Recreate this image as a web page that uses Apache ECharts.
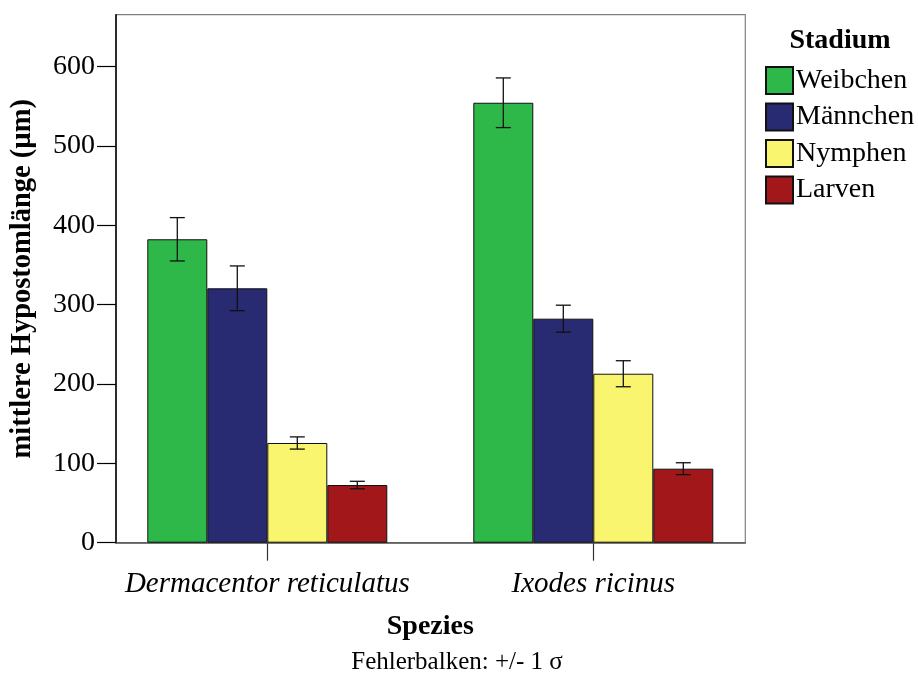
<!DOCTYPE html>
<html><head><meta charset="utf-8">
<script src="https://cdn.jsdelivr.net/npm/echarts@6/dist/echarts.min.js"></script>
<style>html,body{margin:0;padding:0;background:#fff}#c{width:918px;height:673px}</style>
</head><body><div id="c"></div>
<script>
const categories = ['Dermacentor reticulatus', 'Ixodes ricinus'];
const seriesNames = ['Weibchen', 'Männchen', 'Nymphen', 'Larven'];
const weibchen = [382.5, 554.6];
const maennchen = [320.7, 282.4];
const nymphen = [125.7, 213.0];
const larven = [72.7, 93.3];
const sdWeibchen = [27.3, 31.3];
const sdMaennchen = [28.2, 17.0];
const sdNymphen = [7.7, 16.4];
const sdLarven = [4.7, 7.5];
const yTicks = [0, 100, 200, 300, 400, 500, 600];

const means = [weibchen, maennchen, nymphen, larven];
const sds = [sdWeibchen, sdMaennchen, sdNymphen, sdLarven];
const colors = ['#2fb84a', '#282a72', '#f9f56e', '#a1171a'];
const FONT = 'Liberation Serif';
const yMax = 665.6;

const errData = [];
means.forEach((arr, s) => arr.forEach((m, c) => {
  errData.push([c, m - sds[s][c], m + sds[s][c], s]);
}));

const chart = echarts.init(document.getElementById('c'), null, {renderer: 'canvas'});
const barSeries = seriesNames.map((n, i) => ({
  name: n, type: 'bar', xAxisIndex: 0, yAxisIndex: 0,
  data: means[i], barWidth: 60, barGap: '0%',
  itemStyle: {color: colors[i], borderColor: '#111', borderWidth: 1},
  emphasis: {disabled: true}
}));

chart.setOption({
  animation: false,
  textStyle: {fontFamily: FONT, color: '#000'},
  grid: [
    {left: 104.3, top: 14.7, width: 652, height: 528, show: false},
    {left: 115.7, top: 14.7, width: 629.6, height: 528, show: true, borderColor: '#808080', borderWidth: 1.2, backgroundColor: 'transparent', z: 0}
  ],
  xAxis: [
    {type: 'category', gridIndex: 0, data: categories,
     axisLine: {show: false},
     axisTick: {show: true, alignWithLabel: true, length: 18, lineStyle: {color: '#333', width: 1.2}},
     axisLabel: {interval: 0, fontFamily: FONT, fontStyle: 'italic', fontSize: 29, color: '#000', margin: 27},
     name: 'Spezies', nameLocation: 'middle', nameGap: 70,
     nameTextStyle: {fontFamily: FONT, fontWeight: 'bold', fontSize: 28, color: '#000'}},
    {type: 'value', gridIndex: 1, min: 0, max: 1, show: true,
     axisLine: {show: true, onZero: false, lineStyle: {color: '#555', width: 1.5}},
     axisTick: {show: false}, axisLabel: {show: false}, splitLine: {show: false}}
  ],
  yAxis: [
    {type: 'value', gridIndex: 0, min: 0, max: yMax, show: false, splitLine: {show: false}},
    {type: 'value', gridIndex: 1, min: 0, max: yMax, interval: 100,
     axisLine: {show: true, lineStyle: {color: '#000', width: 1.5}},
     axisTick: {show: true, length: 19, customValues: yTicks, lineStyle: {color: '#000', width: 1.2}},
     axisLabel: {fontFamily: FONT, fontSize: 28, color: '#000', margin: 21, customValues: yTicks},
     splitLine: {show: false},
     name: 'mittlere Hypostomlänge (µm)', nameLocation: 'middle', nameGap: 79, nameRotate: 90,
     nameTextStyle: {fontFamily: FONT, fontWeight: 'bold', fontSize: 28.5, color: '#000'}}
  ],
  title: {text: 'Stadium', left: 835, top: 22, textAlign: 'center',
    textStyle: {fontFamily: FONT, fontWeight: 'bold', fontSize: 28, color: '#000'}},
  legend: {orient: 'vertical', left: 760, top: 61, itemWidth: 27, itemHeight: 27, itemGap: 7.5,
    icon: 'rect', data: seriesNames, selectedMode: false,
    textStyle: {fontFamily: FONT, fontSize: 28, color: '#000', padding: [0, 0, 0, -2], lineHeight: 27}},
  graphic: [{type: 'text', style: {text: 'Fehlerbalken: +/- 1 σ', font: '25px "Liberation Serif"', fill: '#000', x: 457, y: 662, textAlign: 'center', textVerticalAlign: 'middle'}}],
  series: barSeries.concat([{
    type: 'custom', xAxisIndex: 0, yAxisIndex: 0, z: 10,
    data: errData,
    renderItem: function (params, api) {
      const c = api.value(0), lo = api.value(1), hi = api.value(2), s = api.value(3);
      const off = (s - 1.5) * 60;
      const pLo = api.coord([c, lo]), pHi = api.coord([c, hi]);
      const x = pLo[0] + off, hw = 7.5;
      const st = {stroke: '#111', lineWidth: 1.3};
      return {type: 'group', children: [
        {type: 'line', shape: {x1: x, y1: pLo[1], x2: x, y2: pHi[1]}, style: st},
        {type: 'line', shape: {x1: x - hw, y1: pLo[1], x2: x + hw, y2: pLo[1]}, style: st},
        {type: 'line', shape: {x1: x - hw, y1: pHi[1], x2: x + hw, y2: pHi[1]}, style: st}
      ]};
    }
  }])
});
</script></body></html>
